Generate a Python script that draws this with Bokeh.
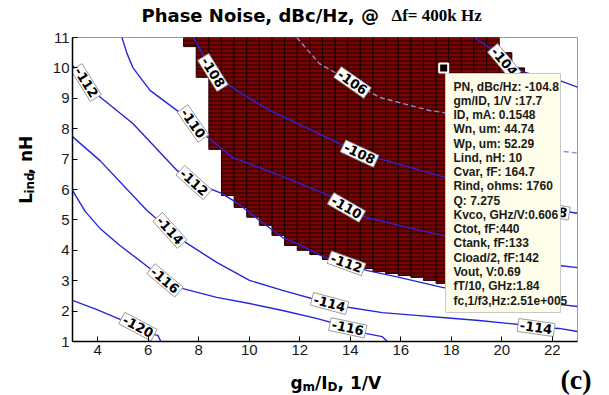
import math
from bokeh.plotting import figure
from bokeh.layouts import column, row
from bokeh.models import ColumnDataSource, FixedTicker
from bokeh.core.properties import value
from bokeh.embed import file_html
from bokeh.resources import INLINE

# ---------------- data ----------------
x_ticks = [4, 6, 8, 10, 12, 14, 16, 18, 20, 22]
y_ticks = [1, 2, 3, 4, 5, 6, 7, 8, 9, 10, 11]

# feasible (dark) region: column left edges, bottoms, tops (gm/ID, Lind)
reg_left = [7.4, 7.9, 8.4, 8.9, 9.4, 9.9, 10.4, 10.9, 11.4, 11.9, 12.4, 12.9, 13.4, 13.9, 14.4,
            14.9, 15.4, 15.9, 16.4, 16.9, 17.4, 17.9, 18.4, 18.9, 19.4, 19.9, 20.4, 20.9, 21.4]
reg_bottom = [10.70, 9.69, 7.32, 5.80, 5.41, 5.09, 4.82, 4.49, 4.16, 4.00, 3.86, 3.70, 3.60, 3.50, 3.40,
              3.30, 3.24, 3.17, 3.11, 3.01, 2.91, 2.85, 2.80, 2.75, 2.70, 2.65, 2.60, 2.55, 2.50]
reg_top = [11, 11, 11, 11, 11, 11, 11, 11, 11, 11, 11, 11, 11, 11, 11,
           11, 11, 11, 11, 11, 11, 11, 11, 11, 11, 10.5, 10.0, 9.75, 9.6]
reg_step = 0.5

# contour lines of phase noise (dBc/Hz)
c120_x = [3.0, 3.97, 5.0, 6.07, 6.38, 6.5]
c120_y = [2.35, 2.05, 1.69, 1.26, 1.20, 1.0]
c116_x = [3.0, 3.5, 4.09, 4.88, 6.07, 6.74, 7.37, 8.71, 10.01, 11.32, 12.66, 13.97, 14.64, 15.27, 15.47]
c116_y = [5.97, 5.28, 4.72, 4.16, 3.40, 3.01, 2.74, 2.45, 2.25, 2.02, 1.76, 1.46, 1.26, 1.16, 1.0]
c114_x = [3.0, 4.09, 5.95, 6.86, 7.37, 8.71, 10.01, 11.32, 13.18, 13.97, 15.27, 16.61, 17.64, 19.1,
          20.68, 21.36, 22.27, 23.0]
c114_y = [7.74, 6.95, 5.31, 4.65, 4.32, 3.60, 3.01, 2.68, 2.25, 2.12, 1.95, 1.86, 1.79, 1.69,
          1.56, 1.46, 1.43, 1.33]
c112_x = [3.0, 3.54, 4.02, 5.39, 7.13, 7.81, 8.91, 9.50, 10.41, 11.32, 11.99, 12.90, 13.85, 14.64,
          15.94, 17.64, 19.89, 22.27, 23.0]
c112_y = [10.08, 9.52, 9.09, 8.17, 6.63, 6.23, 5.87, 5.57, 4.98, 4.42, 4.19, 3.80, 3.57, 3.34,
          3.11, 2.78, 2.48, 2.22, 2.15]
c110_x = [4.96, 5.16, 5.39, 6.07, 7.25, 7.77, 8.36, 9.35, 10.69, 11.99, 13.18, 13.85, 14.64, 15.94,
          17.64, 19.89, 22.27, 23.0]
c110_y = [11.0, 10.47, 10.01, 9.26, 8.53, 8.17, 7.71, 7.05, 6.63, 6.20, 5.80, 5.41, 5.08, 4.82,
          4.49, 3.99, 3.50, 3.43]
c108_x = [7.80, 8.12, 8.56, 9.50, 10.81, 12.51, 14.37, 15.43, 17.80, 19.89, 22.27, 23.0]
c108_y = [11.0, 10.51, 9.85, 9.26, 8.60, 7.94, 7.18, 6.95, 6.39, 5.90, 5.31, 5.22]
c106_x = [11.88, 12.39, 12.78, 14.09, 15.16, 17.14, 17.93, 19.9, 22.15, 23.0]
c106_y = [11.0, 10.51, 10.14, 9.52, 9.03, 8.60, 8.50, 7.94, 7.28, 7.20]
c104_x = [18.91, 19.50, 20.10, 20.69, 21.48, 22.27, 23.0]
c104_y = [11.0, 10.67, 10.20, 9.91, 9.72, 9.59, 9.37]

# contour labels
lab_text = ["-112", "-110", "-108", "-106", "-104", "-108", "-110", "-112", "-114", "-112",
            "-116", "-114", "-116", "-120", "-114", "-108"]
lab_x = [3.54, 7.77, 8.56, 14.09, 20.10, 14.37, 13.85, 7.81, 6.86, 13.85, 6.66, 13.18, 13.9, 5.59, 21.36, 21.96]
lab_y = [9.52, 8.17, 9.85, 9.52, 10.20, 7.18, 5.41, 6.23, 4.65, 3.57, 3.01, 2.25, 1.45, 1.49, 1.46, 5.31]
lab_angle = [-58, -55, -58, -35, -50, -25, -30, -42, -48, -20, -40, -15, -12, -28, -8, -10]

# selected design point and its data tip
sel_x = [17.7]
sel_y = [10]
info_lines = ["PN, dBc/Hz: -104.8", "gm/ID, 1/V :17.7", "ID, mA: 0.1548", "Wn, um: 44.74",
              "Wp, um: 52.29", "Lind, nH: 10", "Cvar, fF: 164.7", "Rind, ohms: 1760", "Q: 7.275",
              "Kvco, GHz/V:0.606", "Ctot, fF:440", "Ctank, fF:133", "Cload/2, fF:142",
              "Vout, V:0.69", "fT/10, GHz:1.84", "fc,1/f3,Hz:2.51e+005"]

title_main = "Phase Noise, dBc/Hz, @ "
title_serif = "\u0394f= 400k Hz"
xlabel_parts = ["g", "m", "/I", "D", " , 1/V"]
ylabel_parts = ["L", "ind", ", nH"]
panel_tag = "(c)"

# ---------------- layout (pixels) ----------------
W, H = 609, 395
L, R, T, B = 72, 577, 37, 341          # plot frame in page pixels
TOP_H = 30                             # title strip
BOT_H = 32                             # x-label strip
LEFT_W = 38                            # y-label strip
MAIN_H = H - TOP_H - BOT_H

def X(px):
    return 3 + (px - L) * 20.0 / (R - L)
def Y(py):
    return 1 + (B - py) * 10.0 / (B - T)

p = figure(width=W - LEFT_W, height=MAIN_H, x_range=(3, 23), y_range=(1, 11),
           output_backend="svg", toolbar_location=None, title=None,
           min_border_left=L - LEFT_W, min_border_right=W - R,
           min_border_top=T - TOP_H, min_border_bottom=TOP_H + MAIN_H - B)
p.background_fill_color = "white"
p.border_fill_color = "white"
p.outline_line_color = "#9a9a9a"
p.outline_line_width = 1
p.grid.visible = False

for ax in (p.xaxis, p.yaxis):
    ax.axis_line_color = "black"
    ax.axis_line_width = 1.5
    ax.major_tick_in = 5
    ax.major_tick_out = 0
    ax.major_tick_line_color = "black"
    ax.minor_tick_line_color = None
    ax.major_label_text_font = "Liberation Sans"
    ax.major_label_text_font_size = "15px"
    ax.major_label_text_color = "#1a1a1a"
    ax.major_label_standoff = 3
p.xaxis.ticker = FixedTicker(ticks=x_ticks)
p.yaxis.ticker = FixedTicker(ticks=y_ticks)

# dark region
reg_src = ColumnDataSource(dict(left=reg_left, right=[v + reg_step for v in reg_left],
                                bottom=reg_bottom, top=reg_top))
p.quad(left="left", right="right", bottom="bottom", top="top", source=reg_src,
       fill_color="#780404", line_color="#1a0000", line_width=1,
       hatch_pattern="horizontal_line", hatch_color="#220000", hatch_scale=4, hatch_weight=1)

# contour lines
solid_xs = [c120_x, c116_x, c114_x, c112_x, c110_x, c108_x, c104_x]
solid_ys = [c120_y, c116_y, c114_y, c112_y, c110_y, c108_y, c104_y]
p.multi_line(xs=solid_xs, ys=solid_ys, line_color="#2626d9", line_width=1.4)
p.line(c106_x, c106_y, line_color="#8c8cd2", line_width=1.4, line_dash="5 3")

# contour labels
lab_src = ColumnDataSource(dict(x=lab_x, y=lab_y, text=lab_text,
                                angle=[math.radians(a) for a in lab_angle]))
p.text(x="x", y="y", text="text", angle="angle", source=lab_src,
       text_font=value("DejaVu Sans"), text_font_style="bold", text_font_size="13px",
       text_color="black", text_align="center", text_baseline="middle",
       background_fill_color="white", border_line_color="#9a9a9a", border_line_width=1,
       padding=2)

# data tip box
p.quad(left=[X(445)], right=[X(560)], bottom=[Y(312)], top=[Y(73)],
       fill_color="#fdfde9", line_color="#c8c8c8", line_width=1)
info_src = ColumnDataSource(dict(x=[X(453)] * len(info_lines),
                                 y=[Y(86 + 14.27 * i) for i in range(len(info_lines))],
                                 text=info_lines))
p.text(x="x", y="y", text="text", source=info_src, text_font=value("Liberation Sans"),
       text_font_style="bold", text_font_size="12px", text_color="#1a1a1a",
       text_align="left", text_baseline="middle")
p.scatter(x=sel_x, y=sel_y, marker="square", size=9, fill_color="black",
          line_color="white", line_width=2)

# ---------------- text strips (pixel coordinate figures) ----------------
def strip(w, h):
    f = figure(width=w, height=h, x_range=(0, w), y_range=(0, h),
               output_backend="svg", toolbar_location=None, title=None,
               x_axis_type=None, y_axis_type=None,
               min_border_left=0, min_border_right=0, min_border_top=0, min_border_bottom=0)
    f.outline_line_color = None
    f.background_fill_color = "white"
    f.border_fill_color = "white"
    return f

def put(f, h, txt, px, py, size, font="DejaVu Sans", angle=0.0):
    # px, py: local pixel position of the text baseline start (py from the strip's top);
    # text is anchored at its middle, which sits ~0.34 em above the baseline
    s = float(size.replace("px", ""))
    off = 0.34 * s
    if angle == 0.0:
        ax_, ay_ = px, py - off
    else:  # rotated 90 deg counter-clockwise: baseline side faces right
        ax_, ay_ = px - off, py
    f.text(x=[ax_], y=[h - ay_], text=[txt], angle=angle, text_font=value(font),
           text_font_style="bold", text_font_size=size, text_color="black",
           text_align="left", text_baseline="middle")

top = strip(W, TOP_H)
put(top, TOP_H, title_main, 141, 21, "18px")
put(top, TOP_H, title_serif, 391, 21, "17px", font="Liberation Serif")

y0b = TOP_H + MAIN_H
bot = strip(W, BOT_H)
put(bot, BOT_H, xlabel_parts[0], 290, 388 - y0b, "17px")
put(bot, BOT_H, xlabel_parts[1], 302, 391 - y0b, "12px")
put(bot, BOT_H, xlabel_parts[2], 314.5, 388 - y0b, "17px")
put(bot, BOT_H, xlabel_parts[3], 327, 391 - y0b, "12px")
put(bot, BOT_H, xlabel_parts[4], 337, 388 - y0b, "17px")
put(bot, BOT_H, panel_tag, 560, 388.5 - y0b, "28px", font="Liberation Serif")

lft = strip(LEFT_W, MAIN_H)
ang = math.pi / 2
put(lft, MAIN_H, ylabel_parts[0], 31, 212 - TOP_H, "17px", angle=ang)
put(lft, MAIN_H, ylabel_parts[1], 34, 201 - TOP_H, "12px", angle=ang)
put(lft, MAIN_H, ylabel_parts[2], 31, 180 - TOP_H, "17px", angle=ang)

layout = column(top, row(lft, p, spacing=0), bot, spacing=0)
open("out.html", "w").write(file_html(layout, INLINE))
